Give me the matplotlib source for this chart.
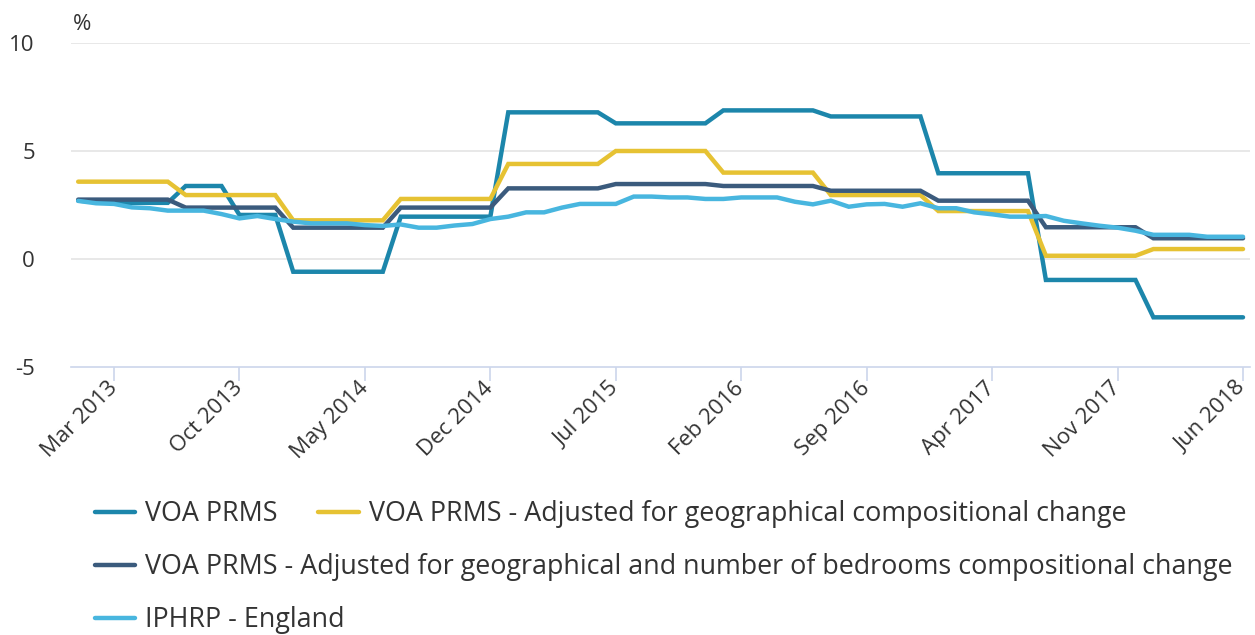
import matplotlib
matplotlib.use("Agg")
import matplotlib.pyplot as plt

plt.rcParams['font.family'] = ['Open Sans', 'DejaVu Sans']

# Monthly points, Jan 2013 .. Jun 2018 (66 months)
months = list(range(66))

voa_prms = [2.70, 2.65, 2.60, 2.60, 2.60, 2.60, 3.38, 3.38, 3.38, 2.04, 2.04, 2.04,
            -0.59, -0.59, -0.59, -0.59, -0.59, -0.59, 1.96, 1.96, 1.96, 1.96, 1.96, 1.96,
            6.79, 6.79, 6.79, 6.79, 6.79, 6.79, 6.28, 6.28, 6.28, 6.28, 6.28, 6.28,
            6.88, 6.88, 6.88, 6.88, 6.88, 6.88, 6.60, 6.60, 6.60, 6.60, 6.60, 6.60,
            3.97, 3.97, 3.97, 3.97, 3.97, 3.97, -0.97, -0.97, -0.97, -0.97, -0.97, -0.97,
            -2.70, -2.70, -2.70, -2.70, -2.70, -2.70]

voa_geo = [3.58, 3.58, 3.58, 3.58, 3.58, 3.58, 2.96, 2.96, 2.96, 2.96, 2.96, 2.96,
           1.79, 1.79, 1.79, 1.79, 1.79, 1.79, 2.78, 2.78, 2.78, 2.78, 2.78, 2.78,
           4.40, 4.40, 4.40, 4.40, 4.40, 4.40, 5.00, 5.00, 5.00, 5.00, 5.00, 5.00,
           4.00, 4.00, 4.00, 4.00, 4.00, 4.00, 2.96, 2.96, 2.96, 2.96, 2.96, 2.96,
           2.22, 2.22, 2.22, 2.22, 2.22, 2.22, 0.15, 0.15, 0.15, 0.15, 0.15, 0.15,
           0.46, 0.46, 0.46, 0.46, 0.46, 0.46]

voa_geo_beds = [2.75, 2.75, 2.75, 2.75, 2.75, 2.75, 2.38, 2.38, 2.38, 2.38, 2.38, 2.38,
                1.45, 1.45, 1.45, 1.45, 1.45, 1.45, 2.38, 2.38, 2.38, 2.38, 2.38, 2.38,
                3.27, 3.27, 3.27, 3.27, 3.27, 3.27, 3.47, 3.47, 3.47, 3.47, 3.47, 3.47,
                3.38, 3.38, 3.38, 3.38, 3.38, 3.38, 3.16, 3.16, 3.16, 3.16, 3.16, 3.16,
                2.70, 2.70, 2.70, 2.70, 2.70, 2.70, 1.47, 1.47, 1.47, 1.47, 1.47, 1.47,
                0.96, 0.96, 0.96, 0.96, 0.96, 0.96]

iphrp = [2.69, 2.58, 2.55, 2.39, 2.35, 2.24, 2.24, 2.24, 2.08, 1.88, 1.99, 1.85,
         1.73, 1.65, 1.65, 1.65, 1.57, 1.53, 1.60, 1.45, 1.45, 1.55, 1.62, 1.85,
         1.96, 2.16, 2.16, 2.38, 2.55, 2.55, 2.55, 2.89, 2.89, 2.85, 2.85, 2.78,
         2.78, 2.85, 2.85, 2.85, 2.65, 2.53, 2.70, 2.42, 2.53, 2.55, 2.42, 2.58,
         2.35, 2.35, 2.16, 2.07, 1.96, 1.96, 1.99, 1.77, 1.65, 1.54, 1.45, 1.31,
         1.12, 1.12, 1.12, 1.03, 1.03, 1.03]

tick_positions = [2, 9, 16, 23, 30, 37, 44, 51, 58, 65]
tick_labels = ["Mar 2013", "Oct 2013", "May 2014", "Dec 2014", "Jul 2015",
               "Feb 2016", "Sep 2016", "Apr 2017", "Nov 2017", "Jun 2018"]
y_ticks = [-5, 0, 5, 10]

series_names = ["VOA PRMS",
                "VOA PRMS - Adjusted for geographical compositional change",
                "VOA PRMS - Adjusted for geographical and number of bedrooms compositional change",
                "IPHRP - England"]
colors = ["#1c86ab", "#e6c233", "#3b5b7d", "#48b6df"]

W, H = 1255, 635
fig = plt.figure(figsize=(W / 100, H / 100), dpi=100)
ax = fig.add_axes([71 / W, 1 - 367 / H, (1250 - 71) / W, (367 - 43) / H])

lines = []
for data, c, name in zip([voa_prms, voa_geo, voa_geo_beds, iphrp], colors, series_names):
    ln, = ax.plot(months, data, color=c, lw=3.2, label=name, solid_joinstyle='miter',
                  solid_capstyle='round', clip_on=False, zorder=3)
    lines.append(ln)

ax.set_xlim(-0.40, 65.39)
ax.set_ylim(-5, 10)

for s in ["top", "right", "left"]:
    ax.spines[s].set_visible(False)
ax.spines["bottom"].set_color("#ccd6eb")
ax.spines["bottom"].set_linewidth(1.2)

ax.set_yticks(y_ticks)
ax.set_yticklabels([str(v) for v in y_ticks])
ax.tick_params(axis='y', length=0, pad=26, labelsize=16, labelcolor="#333333")
for v in y_ticks[1:]:
    ax.axhline(v, color="#e6e6e6", lw=1.3, zorder=1)

ax.set_xticks(tick_positions)
ax.set_xticklabels(tick_labels, rotation=45, ha='right', va='center', rotation_mode='anchor')
ax.tick_params(axis='x', length=10, width=1.2, color="#ccd6eb", labelsize=16,
               labelcolor="#333333", pad=3)

fig.text(73 / W, 1 - 24 / H, "%", fontsize=16, color="#333333", va='center', ha='left')

leg_kw = dict(frameon=False, fontsize=19.4, handlelength=1.5, handletextpad=0.37,
              columnspacing=1.5, borderpad=0, borderaxespad=0, labelcolor="#333333")
leg1 = fig.legend(handles=[lines[0], lines[1]], ncol=2, loc='center left',
                  bbox_to_anchor=(95 / W, 1 - 514 / H), **leg_kw)
leg2 = fig.legend(handles=[lines[2]], loc='center left',
                  bbox_to_anchor=(95 / W, 1 - 567 / H), **leg_kw)
leg3 = fig.legend(handles=[lines[3]], loc='center left',
                  bbox_to_anchor=(95 / W, 1 - 620 / H), **leg_kw)

fig.savefig("out.png", dpi=100)
